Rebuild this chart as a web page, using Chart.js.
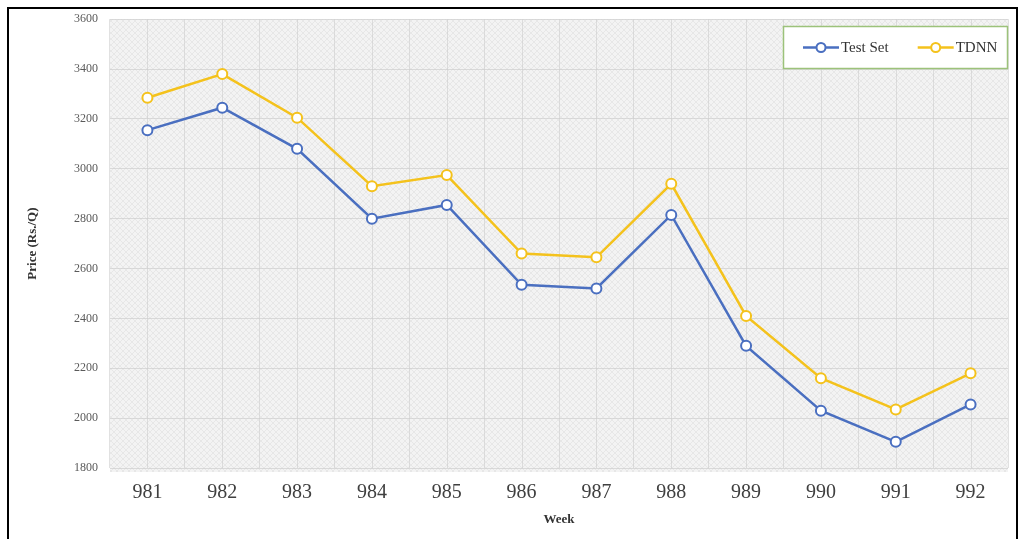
<!DOCTYPE html>
<html>
<head>
<meta charset="utf-8">
<title>Weekly price: Test Set vs TDNN</title>
<script src="https://cdn.jsdelivr.net/npm/chart.js@4.4.1/dist/chart.umd.min.js"></script>
<style>
  html, body { margin: 0; padding: 0; background: #fff; }
  #wrap { position: relative; width: 1019px; height: 539px; overflow: hidden; }
  #frame {
    position: absolute; left: 7px; top: 7px; width: 1007px; height: 540px;
    border-left: 2px solid #000; border-top: 2px solid #000; border-right: 2px solid #000;
    pointer-events: none;
  }
  canvas { position: absolute; left: 0; top: 0; }
</style>
</head>
<body>
<div id="wrap">
  <canvas id="chart" width="1019" height="539"></canvas>
  <div id="frame"></div>
</div>
<script>
// Weeks on the x axis
const weeks = ['981', '982', '983', '984', '985', '986', '987', '988', '989', '990', '991', '992'];
// Observed prices (Rs./Q)
const testSet = [3155, 3245, 3080, 2800, 2855, 2535, 2520, 2815, 2290, 2030, 1905, 2055];
// TDNN forecasts (Rs./Q)
const tdnn = [3285, 3380, 3205, 2930, 2975, 2660, 2645, 2940, 2410, 2160, 2035, 2180];
// Price axis range and step
const yMin = 1800;
const yMax = 3600;
const yStep = 200;

const SERIF = '"Liberation Serif", "Times New Roman", serif';
const BLUE = '#4a6fc0';
const GOLD = '#f4c21c';

// Light grey cross-hatched fill for the plotting area
function hatchPattern(ctx) {
  const c = document.createElement('canvas');
  c.width = 6; c.height = 6;
  const p = c.getContext('2d');
  p.fillStyle = '#f3f3f3';
  p.fillRect(0, 0, 6, 6);
  p.fillStyle = '#e7e7e7';
  for (let i = 0; i < 6; i++) {
    p.fillRect(i, i, 1, 1);
    p.fillRect(5 - i, i, 1, 1);
  }
  return ctx.createPattern(c, 'repeat');
}

const plotBackground = {
  id: 'plotBackground',
  beforeDraw(chart) {
    const { ctx, chartArea: a, scales } = chart;
    ctx.save();
    ctx.fillStyle = hatchPattern(ctx);
    ctx.fillRect(a.left, a.top, a.right - a.left, a.bottom - a.top + 4);
    // vertical guides at each week
    ctx.strokeStyle = 'rgba(205,205,205,0.6)';
    ctx.lineWidth = 1;
    weeks.forEach((w, i) => {
      const x = Math.round(scales.x.getPixelForValue(i)) + 0.5;
      ctx.beginPath();
      ctx.moveTo(x, a.top);
      ctx.lineTo(x, a.bottom);
      ctx.stroke();
    });
    ctx.restore();
  }
};

// Boxed legend in the upper right corner of the plot
const boxedLegend = {
  id: 'boxedLegend',
  afterDraw(chart) {
    const { ctx } = chart;
    const box = { x: 783, y: 26, w: 225, h: 43 };
    ctx.save();
    ctx.fillStyle = '#ffffff';
    ctx.fillRect(box.x, box.y, box.w, box.h);
    ctx.strokeStyle = '#9cc27a';
    ctx.lineWidth = 1.5;
    ctx.strokeRect(box.x + 0.5, box.y + 0.5, box.w - 1, box.h - 1);
    ctx.font = '15px ' + SERIF;
    ctx.textBaseline = 'middle';
    const cy = box.y + box.h / 2;
    let x = box.x + 20;
    chart.data.datasets.forEach(ds => {
      ctx.strokeStyle = ds.borderColor;
      ctx.lineWidth = 2.5;
      ctx.beginPath();
      ctx.moveTo(x, cy);
      ctx.lineTo(x + 36, cy);
      ctx.stroke();
      ctx.beginPath();
      ctx.arc(x + 18, cy, 4.5, 0, Math.PI * 2);
      ctx.fillStyle = '#fff';
      ctx.fill();
      ctx.lineWidth = 2;
      ctx.stroke();
      ctx.fillStyle = '#333';
      ctx.fillText(ds.label, x + 38, cy + 1);
      x += 38 + ctx.measureText(ds.label).width + 29;
    });
    ctx.restore();
  }
};

new Chart(document.getElementById('chart'), {
  type: 'line',
  data: {
    labels: weeks,
    datasets: [
      {
        label: 'Test Set',
        data: testSet,
        borderColor: BLUE,
        backgroundColor: '#ffffff',
        borderWidth: 2.5,
        pointRadius: 5,
        pointBorderWidth: 2,
        pointBackgroundColor: '#ffffff',
        pointBorderColor: BLUE,
        tension: 0
      },
      {
        label: 'TDNN',
        data: tdnn,
        borderColor: GOLD,
        backgroundColor: '#ffffff',
        borderWidth: 2.5,
        pointRadius: 5,
        pointBorderWidth: 2,
        pointBackgroundColor: '#ffffff',
        pointBorderColor: GOLD,
        tension: 0
      }
    ]
  },
  options: {
    responsive: false,
    animation: false,
    devicePixelRatio: 1,
    layout: { padding: { left: 0, top: 17, right: 11, bottom: 0 } },
    plugins: {
      legend: { display: false },
      tooltip: { enabled: false }
    },
    scales: {
      x: {
        offset: true,
        grid: { offset: true, color: 'rgba(205,205,205,0.6)', drawTicks: false },
        border: { display: false },
        ticks: {
          color: '#404040',
          font: { family: SERIF, size: 20 },
          padding: 13,
          maxRotation: 0
        },
        title: {
          display: true,
          text: 'Week',
          color: '#333',
          font: { family: SERIF, size: 13, weight: 'bold' },
          padding: { top: 0, bottom: 12 }
        },
        afterFit(scale) { scale.height = 71; }
      },
      y: {
        min: yMin,
        max: yMax,
        grid: { color: 'rgba(205,205,205,0.7)', drawTicks: false },
        border: { display: false },
        ticks: {
          stepSize: yStep,
          color: '#5a5a5a',
          font: { family: SERIF, size: 12 },
          padding: 12,
          callback: (v) => String(v)
        },
        title: {
          display: true,
          text: 'Price (Rs./Q)',
          color: '#333',
          font: { family: SERIF, size: 13, weight: 'bold' },
          padding: { top: 25, bottom: 0 }
        },
        afterFit(scale) { scale.width = 110; }
      }
    }
  },
  plugins: [plotBackground, boxedLegend]
});
</script>
</body>
</html>
